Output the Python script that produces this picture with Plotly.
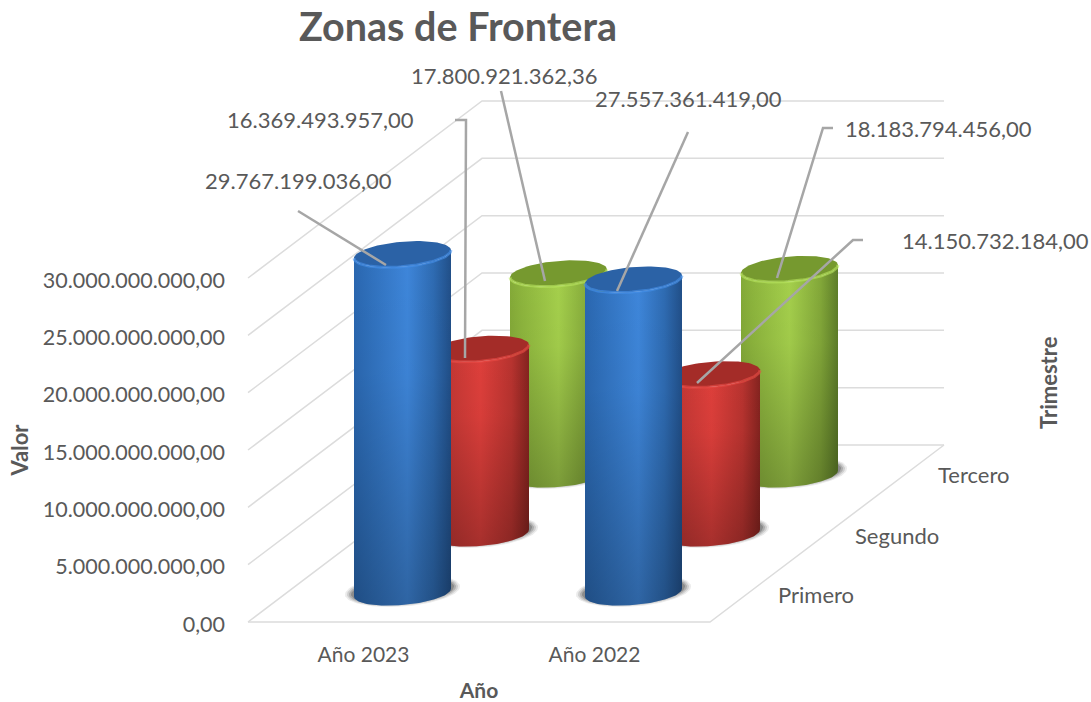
import numpy as np
import plotly.graph_objects as go

TITLE = "Zonas de Frontera"
YEARS = ["Año 2023", "Año 2022"]
QUARTERS = ["Primero", "Segundo", "Tercero"]
PRIMERO = [29767199036.00, 27557361419.00]
SEGUNDO = [16369493957.00, 14150732184.00]
TERCERO = [17800921362.36, 18183794456.00]
VALUE_TICKS = [0, 5e9, 10e9, 15e9, 20e9, 25e9, 30e9]

W, H = 1091, 702
L, R, T, B = 248, 710, 278, 622          # front wall rectangle in pixels
PL, PR, PT, PB = 240, 960, 90, 632       # full drawing box in pixels
PX_X = (R - L) / 2.0                     # pixels per category
PX_Y = (B - T) / 30e9                    # pixels per value unit
DEPTH_PX = (234.0, 177.0)                # oblique depth vector
CAP_DROP_PX = 3.0                        # bevel: cap sits slightly below the nominal top
TEXT = "#595959"
GRID = "#DCDCDC"
FONT = "Lato"

STYLES = [
    dict(scale=[[0, "#2A67B0"], [0.12, "#2E6EB9"], [0.55, "#3E86DA"], [0.82, "#2E6BB2"], [1, "#214F88"]],
         cap="#2B62A6", rim="rgba(70,145,235,0.6)"),
    dict(scale=[[0, "#B23330"], [0.12, "#BE3633"], [0.5, "#DE3F3B"], [0.82, "#B8332F"], [1, "#84231F"]],
         cap="#A42C28", rim="rgba(235,75,70,0.6)"),
    dict(scale=[[0, "#84AA38"], [0.12, "#8DB53D"], [0.5, "#A5D04C"], [0.82, "#83A839"], [1, "#5E7E29"]],
         cap="#76992F", rim="rgba(185,230,95,0.6)"),
]


def dx(px_):
    return px_ / PX_X


def dy(px_):
    return -px_ / PX_Y


def proj(cat, depth, val):
    return cat + depth * DEPTH_PX[0] / PX_X, val + depth * DEPTH_PX[1] / PX_Y


def ellipse(cx, cy, t, a=48.5, b=12.5, tilt=4.0):
    t = np.asarray(t)
    return cx + dx(a * np.cos(t)), cy + dy(b * np.sin(t) - tilt * np.cos(t))


def px(x, y):
    return (x - PL) / (PR - PL), (PB - y) / (PB - PT)


fig = go.Figure()
COMMON = dict(xaxis="x2", yaxis="y2", hoverinfo="skip", showlegend=False)


def line(xs, ys, color=GRID, width=1.5, name="grid"):
    fig.add_trace(go.Scatter(x=xs, y=ys, mode="lines", name=name,
                             line=dict(color=color, width=width), **COMMON))


# keeps the visible axes alive
fig.add_trace(go.Scatter(x=[0, 1], y=[0, 0], mode="lines", line=dict(width=0), hoverinfo="skip", showlegend=False))

# walls and floor, derived from the axis ticks
for v in VALUE_TICKS:
    a = proj(-0.5, 0, v)
    b = proj(-0.5, 1, v)
    c = proj(1.5, 1, v)
    line([a[0], b[0], c[0]], [a[1], b[1], c[1]])
a, b = proj(-0.5, 0, 0), proj(1.5, 0, 0)
c = proj(1.5, 1, 0)
line([a[0], b[0], c[0]], [a[1], b[1], c[1]])

series = [PRIMERO, SEGUNDO, TERCERO]
depths = [1 / 6, 1 / 2, 5 / 6]
years = [0, 1]
front = np.linspace(np.pi, 0, 60)
whole = np.linspace(0, 2 * np.pi, 90)

for q in [2, 1, 0]:
    for cat in years:
        val = series[q][cat]
        st = STYLES[q]
        bx, by = proj(cat, depths[q], 0)
        tx, ty = proj(cat, depths[q], val + dy(CAP_DROP_PX))
        # soft base shadow
        for grow, alpha in [(9, 0.10), (7, 0.16), (5, 0.22), (3, 0.3)]:
            sx, sy = ellipse(bx, by + dy(-2), whole, a=48.5 + grow, b=11.5 + grow * 0.5)
            fig.add_trace(go.Scatter(x=sx, y=sy, mode="lines", fill="toself",
                                     fillcolor=f"rgba(60,60,60,{alpha})", line=dict(width=0), **COMMON))
        ex_b, ey_b = ellipse(bx, by, front)
        ex_t, ey_t = ellipse(tx, ty, front)
        xs = np.concatenate([ex_b, ex_t[::-1]])
        ys = np.concatenate([ey_b, ey_t[::-1]])
        xs = np.append(xs, xs[0])
        ys = np.append(ys, ys[0])
        fig.add_trace(go.Scatter(x=xs, y=ys, mode="lines", fill="toself",
                                 name=f"{QUARTERS[q]} {YEARS[cat]}",
                                 fillgradient=dict(type="horizontal", colorscale=st["scale"]),
                                 line=dict(width=0), **COMMON))
        # darkening towards the floor
        fig.add_trace(go.Scatter(x=xs, y=ys, mode="lines", fill="toself",
                                 fillgradient=dict(type="vertical", start=float(ys.max()), stop=float(ys.min()),
                                                   colorscale=[[0, "rgba(0,0,0,0)"], [0.35, "rgba(0,0,0,0.03)"],
                                                               [1, "rgba(0,0,0,0.25)"]]),
                                 line=dict(width=0), **COMMON))
        cx, cy = ellipse(tx, ty, whole)
        fig.add_trace(go.Scatter(x=cx, y=cy, mode="lines", fill="toself",
                                 fillcolor=st["cap"], line=dict(width=0), **COMMON))
        line(ex_t, ey_t, color=st["rim"], width=3, name="rim")


def fmt(v):
    return f"{v:,.2f}".replace(",", "#").replace(".", ",").replace("#", ".")


# data labels: (series, year, label centre px, leader px from label to cylinder top)
LABELS = [
    (0, 0, (298.5, 180), [(298, 211), (386, 265)]),
    (1, 0, (320.5, 119), [(455, 120), (466, 120), (465, 358)]),
    (2, 0, (503.5, 75), [(501, 91), (545, 281)]),
    (0, 1, (688, 98), [(688, 132), (617, 291)]),
    (2, 1, (938, 128), [(833, 128), (823, 128), (777, 278)]),
    (1, 1, (995, 240), [(863, 240), (853, 240), (697, 383)]),
]
annotations = []
shapes = []
for q, cat, (lx, ly), pts in LABELS:
    x0, y0 = px(lx, ly)
    annotations.append(dict(text=fmt(series[q][cat]), x=x0, y=y0, xref="paper", yref="paper", showarrow=False,
                            xanchor="center", yanchor="middle", font=dict(family=FONT, size=22, color=TEXT)))
    path = "M " + " L ".join("{:.5f},{:.5f}".format(*px(*p)) for p in pts)
    shapes.append(dict(type="path", path=path, xref="paper", yref="paper", layer="above",
                       line=dict(color="#A6A6A6", width=2.5)))

# depth axis labels
for name, (lx, ly) in zip(QUARTERS, [(816, 594), (897, 535), (973, 474)]):
    x0, y0 = px(lx, ly)
    annotations.append(dict(text=name, x=x0, y=y0, xref="paper", yref="paper", showarrow=False,
                            xanchor="center", yanchor="middle", font=dict(family=FONT, size=22, color=TEXT)))
x0, y0 = px(1048, 383)
annotations.append(dict(text="<b>Trimestre</b>", x=x0, y=y0, xref="paper", yref="paper", showarrow=False, textangle=-90,
                        xanchor="center", yanchor="middle", font=dict(family=FONT, size=22, color=TEXT)))

box_w, box_h = PR - PL, PB - PT
fig.update_layout(
    width=W, height=H,
    margin=dict(l=PL, r=W - PR, t=PT, b=H - PB, autoexpand=False),
    paper_bgcolor="white", plot_bgcolor="rgba(0,0,0,0)",
    separators=",.",
    showlegend=False,
    hovermode=False,
    title=dict(text=f"<b>{TITLE}</b>", x=458 / W, xanchor="center", y=1 - 27 / H, yanchor="middle",
               font=dict(family=FONT, size=39.5, color=TEXT)),
    xaxis=dict(domain=[(L - PL) / box_w, (R - PL) / box_w], anchor="y", range=[-0.5, 1.5],
               tickmode="array", tickvals=years, ticktext=YEARS, showgrid=False, zeroline=False,
               showline=False, ticks="", ticklabelstandoff=18, tickfont=dict(family=FONT, size=21, color=TEXT),
               title=dict(text="<b>Año</b>", standoff=24, font=dict(family=FONT, size=21, color=TEXT))),
    yaxis=dict(domain=[(PB - B) / box_h, (PB - T) / box_h], anchor="x", range=[0, 30e9],
               tickmode="array", tickvals=VALUE_TICKS, tickformat=",.2f", showgrid=False,
               zeroline=False, showline=False, ticks="", ticklabelstandoff=22, ticklabelshift=2,
               tickfont=dict(family=FONT, size=21.5, color=TEXT),
               title=dict(text="<b>Valor</b>", standoff=8, font=dict(family=FONT, size=22, color=TEXT))),
    xaxis2=dict(domain=[0, 1], anchor="y2", visible=False,
                range=[-0.5 - (L - PL) / PX_X, -0.5 + (PR - L) / PX_X]),
    yaxis2=dict(domain=[0, 1], anchor="x2", visible=False,
                range=[-(PB - B) / PX_Y, (B - PT) / PX_Y]),
    annotations=annotations,
    shapes=shapes,
)

fig.write_html("out.html", config=dict(displayModeBar=False),
               post_script="document.body.style.margin='0';document.body.style.overflow='hidden';")
